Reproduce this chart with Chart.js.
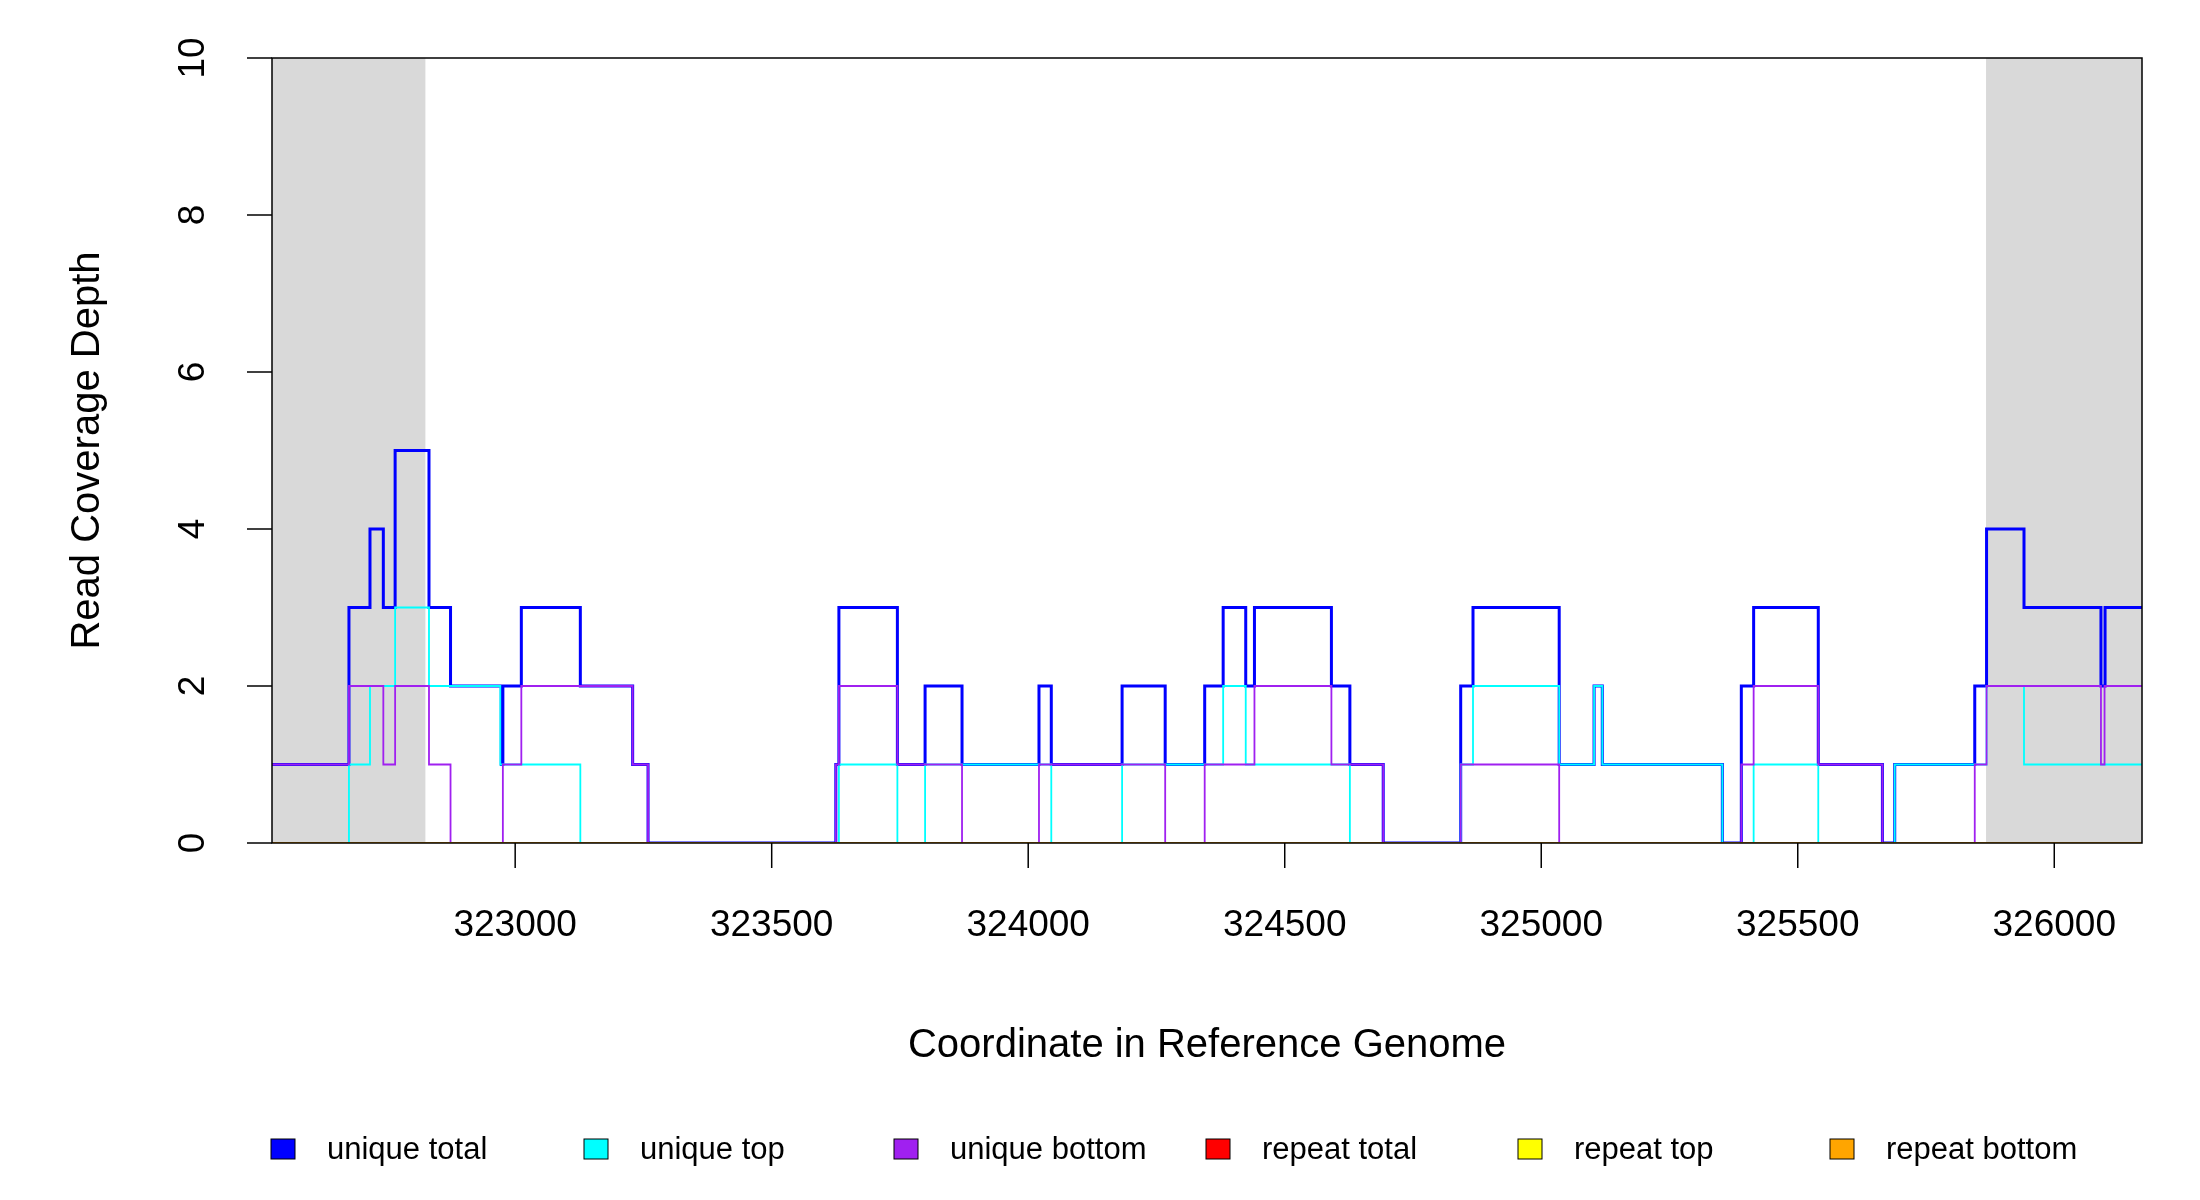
<!DOCTYPE html>
<html>
<head>
<meta charset="utf-8">
<script src="https://cdn.jsdelivr.net/npm/chart.js@4/dist/chart.umd.min.js"></script>
<style>
html, body { margin: 0; padding: 0; background: #fff; }
#wrap { width: 2200px; height: 1200px; }
</style>
</head>
<body>
<div id="wrap"><canvas id="myChart" width="2200" height="1200"></canvas></div>
<script>
// step data: value y[i] holds from x[i] up to x[i+1]
var xMin = 322526, xMax = 326171;
var totalX = [322526, 322676, 322717, 322743, 322766, 322832, 322874, 322973, 322976, 323012, 323127, 323229, 323259,
  323625, 323631, 323745, 323799, 323871, 324021, 324045, 324183, 324267, 324344, 324380, 324424, 324441, 324591, 324627, 324692,
  324843, 324867, 325035, 325103, 325119, 325353, 325390, 325414, 325540, 325665, 325689, 325845, 325868, 325941, 326091, 326099, 326171];
var totalY = [1, 3, 4, 3, 5, 3, 2, 1, 2, 3, 2, 1, 0,
  1, 3, 1, 2, 1, 2, 1, 2, 1, 2, 3, 2, 3, 2, 1, 0,
  2, 3, 1, 2, 1, 0, 2, 3, 1, 0, 1, 2, 4, 3, 2, 3, 3];
var topX = [322526, 322676, 322717, 322766, 322832, 322971, 323127,
  323631, 323745, 323799, 323871, 324021, 324045, 324183, 324267, 324344, 324380, 324424, 324441, 324591, 324627, 324692,
  324843, 324867, 325035, 325103, 325119, 325353, 325414, 325540, 325689, 325868, 325941, 326171];
var topY = [0, 1, 2, 3, 2, 1, 0,
  1, 0, 1, 1, 1, 0, 1, 1, 1, 2, 1, 1, 1, 0, 0,
  1, 2, 1, 2, 1, 0, 1, 0, 1, 2, 1, 1];
var bottomX = [322526, 322676, 322743, 322766, 322832, 322874, 322976, 323012, 323229, 323259,
  323625, 323631, 323745, 323871, 324021, 324267, 324344, 324441, 324591, 324692,
  324843, 325035, 325390, 325414, 325540, 325665, 325845, 325868, 326091, 326098, 326171];
var bottomY = [1, 2, 1, 2, 1, 0, 1, 2, 1, 0,
  1, 2, 1, 0, 1, 0, 1, 2, 1, 0,
  1, 0, 1, 2, 1, 0, 1, 2, 1, 2, 2];
var repeatX = [xMin, xMax];
var repeatTotalY = [0, 0];
var repeatTopY = [0, 0];
var repeatBottomY = [0, 0];
var shadeRegions = [[322526, 322825], [325867, 326171]];
var xTicks = [323000, 323500, 324000, 324500, 325000, 325500, 326000];
var yTicks = [0, 2, 4, 6, 8, 10];
var seriesNames = ['unique total', 'unique top', 'unique bottom', 'repeat total', 'repeat top', 'repeat bottom'];
var seriesColors = ['#0000ff', '#00ffff', '#a020f0', '#ff0000', '#ffff00', '#ffa500'];

function pts(xs, ys) {
    return xs.map(function (x, i) { return { x: x, y: ys[i] }; });
}
var allSeries = [
    pts(totalX, totalY), pts(topX, topY), pts(bottomX, bottomY),
    pts(repeatX, repeatTotalY), pts(repeatX, repeatTopY), pts(repeatX, repeatBottomY)
];
var widths = [3, 1.8, 1.8, 1.8, 1.8, 1.8];

var rPlot = {
    id: 'rPlot',
    beforeDatasetsDraw: function (chart) {
        var c = chart.ctx, a = chart.chartArea, xs = chart.scales.x;
        c.save();
        c.fillStyle = '#d9d9d9';
        shadeRegions.forEach(function (r) {
            var x1 = xs.getPixelForValue(r[0]), x2 = xs.getPixelForValue(r[1]);
            c.fillRect(x1, a.top, x2 - x1, a.bottom - a.top);
        });
        c.restore();
    },
    afterDraw: function (chart) {
        var c = chart.ctx, a = chart.chartArea, xs = chart.scales.x, ys = chart.scales.y;
        c.save();
        c.strokeStyle = '#000';
        c.lineWidth = 1.5;
        c.strokeRect(a.left, a.top, a.right - a.left, a.bottom - a.top);
        c.fillStyle = '#000';
        c.font = '37px "Liberation Sans", Arial, sans-serif';
        c.textAlign = 'center';
        c.textBaseline = 'middle';
        xTicks.forEach(function (t) {
            var p = xs.getPixelForValue(t);
            c.beginPath(); c.moveTo(p, a.bottom); c.lineTo(p, a.bottom + 25); c.stroke();
            c.fillText(String(t), p, a.bottom + 83);
        });
        yTicks.forEach(function (t) {
            var p = ys.getPixelForValue(t);
            c.beginPath(); c.moveTo(a.left, p); c.lineTo(a.left - 25, p); c.stroke();
            c.save();
            c.translate(a.left - 78, p);
            c.rotate(-Math.PI / 2);
            c.fillText(String(t), 0, 0);
            c.restore();
        });
        c.font = '40px "Liberation Sans", Arial, sans-serif';
        c.fillText('Coordinate in Reference Genome', (a.left + a.right) / 2, 1046);
        c.save();
        c.translate(88, (a.top + a.bottom) / 2);
        c.rotate(-Math.PI / 2);
        c.fillText('Read Coverage Depth', 0, 0);
        c.restore();
        // legend
        var lx = [271, 584, 894, 1206, 1518, 1830];
        c.font = '31px "Liberation Sans", Arial, sans-serif';
        c.textAlign = 'left';
        seriesNames.forEach(function (n, i) {
            c.fillStyle = seriesColors[i];
            c.fillRect(lx[i], 1139, 24, 20);
            c.strokeStyle = '#000';
            c.lineWidth = 1;
            c.strokeRect(lx[i], 1139, 24, 20);
            c.fillStyle = '#000';
            c.fillText(n, lx[i] + 56, 1150);
        });
        c.restore();
    }
};

var ctx = document.getElementById('myChart');
new Chart(ctx, {
    type: 'line',
    data: {
        datasets: allSeries.map(function (d, i) {
            return {
                label: seriesNames[i],
                data: d,
                borderColor: seriesColors[i],
                borderWidth: widths[i],
                stepped: 'before',
                pointRadius: 0,
                fill: false,
                order: 6 - i
            };
        })
    },
    options: {
        responsive: false,
        animation: false,
        layout: { padding: { left: 272, right: 58, top: 58, bottom: 357 } },
        scales: {
            x: { type: 'linear', min: xMin, max: xMax, display: false },
            y: { type: 'linear', min: 0, max: 10, display: false }
        },
        plugins: { legend: { display: false }, tooltip: { enabled: false } }
    },
    plugins: [rPlot]
});
</script>
</body>
</html>
